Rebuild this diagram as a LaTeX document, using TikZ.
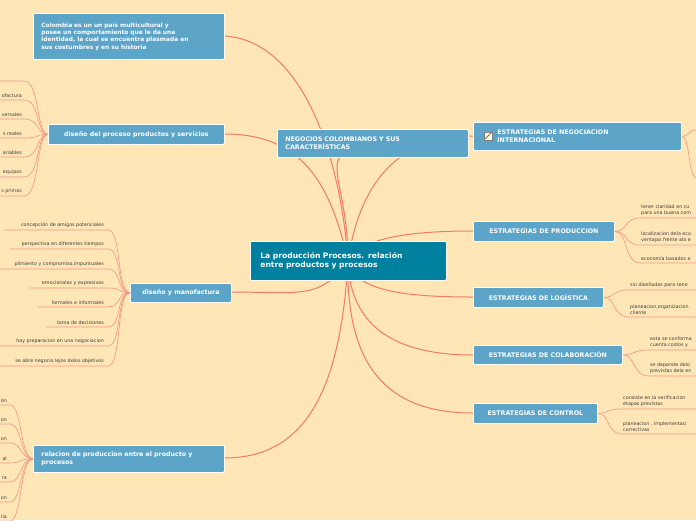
\documentclass[tikz,border=0pt]{standalone}
\usepackage{fontspec}
\setmainfont{DejaVu Sans}
\begin{document}
\begin{tikzpicture}[x=1pt,y=-1pt,
 box/.style={draw=white,line width=0.8pt,fill=boxc,text=white,font=\bfseries\fontsize{6.3}{7.6}\selectfont,align=left,inner ysep=0pt,inner xsep=8pt,rounded corners=1pt},
 lf/.style={font=\fontsize{4.8}{6}\selectfont,text=black!75,align=left,inner sep=0pt},
 lfr/.style={lf,anchor=south east},
 lfl/.style={lf,anchor=south west},
 br/.style={draw=linec,line width=1pt},
 tw/.style={draw=linec!80,line width=0.6pt}]
\definecolor{bg}{HTML}{FFE6B6}
\definecolor{boxc}{HTML}{5CA4C8}
\definecolor{mainc}{HTML}{00809F}
\definecolor{linec}{HTML}{F07A68}
\clip (0,0) rectangle (696,520);
\fill[bg] (0,0) rectangle (696,520);
% main branches
\coordinate (c) at (348,261);
\draw[br] (c) .. controls (340,150) and (300,40) .. (224,36);
\draw[br] (c) .. controls (348,200) and (330,170) .. (340,157);
\draw[br] (c) .. controls (330,180) and (300,134) .. (224,134);
\draw[br] (c) .. controls (320,300) and (300,292) .. (231,292);
\draw[br] (c) .. controls (340,400) and (300,458) .. (224,458);
\draw[br] (c) .. controls (360,180) and (400,136) .. (473,136);
\draw[br] (c) .. controls (360,240) and (400,231) .. (473,231);
\draw[br] (c) .. controls (355,290) and (400,297) .. (473,297);
\draw[br] (c) .. controls (350,330) and (400,355) .. (473,355);
\draw[br] (c) .. controls (345,380) and (400,413) .. (473,413);
% nodes
\node[box,fill=mainc,minimum width=196pt,minimum height=39pt,anchor=north west,text width=176pt,inner xsep=10pt,font=\bfseries\fontsize{7.6}{9.2}\selectfont] (main) at (250,241) {La producción Procesos. relación\\entre productos y procesos};
\node[box,anchor=north west,minimum width=191pt,minimum height=46pt,text width=175pt,font=\bfseries\fontsize{5.9}{7.4}\selectfont] (col) at (33,13) {Colombia es un un país multicultural y\\posee un comportamiento que le da una\\identidad, la cual se encuentra plasmada en\\sus costumbres y en su historia};
\node[box,anchor=north west,minimum width=191pt,minimum height=28pt,text width=175pt] (neg) at (277,129) {NEGOCIOS COLOMBIANOS Y SUS\\CARACTERÍSTICAS};
\node[box,anchor=north west,minimum width=176pt,minimum height=20pt,align=center] (dpp) at (48,124) {diseño del proceso productos y servicios};
\node[box,anchor=north west,minimum width=101pt,minimum height=19pt,align=center] (dym) at (130,283) {diseño y manofactura};
\node[box,anchor=north west,minimum width=191pt,minimum height=27pt,text width=175pt] (rel) at (33,445) {relacion de produccion entre el producto y\\procesos};
\node[box,anchor=north west,minimum width=208pt,minimum height=28pt,text width=192pt] (eni) at (473,122) {\hspace*{16pt}ESTRATEGIAS DE NEGOCIACION\\\hspace*{16pt}INTERNACIONAL};
\node[draw=gray,fill=white,minimum size=8pt,inner sep=0pt] (ico) at (488,136) {};
\draw[orange!80!black,line width=0.8pt] (485,139) -- (491,133);
\node[box,anchor=north west,minimum width=141pt,minimum height=20pt,align=center] (epr) at (473,221) {ESTRATEGIAS DE PRODUCCION};
\node[box,anchor=north west,minimum width=130pt,minimum height=20pt,align=center] (elo) at (473,287) {ESTRATEGIAS DE LOGÍSTICA};
\node[box,anchor=north west,minimum width=149pt,minimum height=19pt,align=center] (eco) at (473,345) {ESTRATEGIAS DE COLABORACIÓN};
\node[box,anchor=north west,minimum width=124pt,minimum height=20pt,align=center] (ect) at (473,403) {ESTRATEGIAS DE CONTROL};
% left leaves: dpp
\foreach \y/\t in {81/{},100/ofactura,119/versales,138/s reales,157/ariables,177/equipos,196/s primas}{
 \node[lfr] at (22,\y-2) {\t};
 \draw[tw] (0,\y) -- (24,\y) .. controls (40,\y) and (36,134) .. (dpp.west);
}
% dym leaves
\foreach \y/\t/\w in {230/concepción de amigos potenciales/4,249/perspectiva en diferentes tiempos/10,269/plimiento y compromiso{,}impuntuales/0,288/emocionales y expresivos/30,307/formales e informales/38,327/toma de decisiones/46,346/hay preparacion en una negociacion/0,366/se abre negocio lejos delos objetivos/0}{
 \node[lfr] at (104,\y-2) {\t};
 \draw[tw] (\w,\y) -- (108,\y) .. controls (122,\y) and (116,292) .. (dym.west);
}
% rel leaves
\foreach \y/\t in {405/ón,424/on,443/on,463/al,482/ra,502/on,521/ria}{
 \node[lfr] at (7,\y-2) {\t};
 \draw[tw] (0,\y) -- (10,\y) .. controls (22,\y) and (20,458) .. (rel.west);
}
% right leaves
\draw[tw] (eni.east) .. controls (690,136) and (688,130) .. (696,130);
\draw[tw] (eni.east) .. controls (690,136) and (688,175) .. (696,178);
\foreach \y/\t in {218/{tener claridad en cu\\para una buena com},245/{localizacion dela eco\\ventajas frente ala e},263/{economía basados e}}{
 \node[lfl] at (641,\y-2) {\t};
 \draw[tw] (epr.east) .. controls (628,231) and (624,\y) .. (640,\y) -- (696,\y);
}
\foreach \y/\t in {290/{sin diseñadas para tene},317/{planeacion,organizacion\\cliente}}{
 \node[lfl] at (630,\y-2) {\t};
 \draw[tw] (elo.east) .. controls (616,297) and (612,\y) .. (629,\y) -- (696,\y);
}
\foreach \y/\t in {350/{esta se conforma\\cuenta costos y},376/{se depende  delo\\previstas dela en}}{
 \node[lfl] at (650,\y-2) {\t};
 \draw[tw] (eco.east) .. controls (636,355) and (632,\y) .. (649,\y) -- (696,\y);
}
\foreach \y/\t in {409/{consiste en la verificacion\\etapas previstas},434/{planeacion , implementaci\\correctivas}}{
 \node[lfl] at (623,\y-2) {\t};
 \draw[tw] (ect.east) .. controls (610,413) and (606,\y) .. (622,\y) -- (696,\y);
}
\end{tikzpicture}
\end{document}
